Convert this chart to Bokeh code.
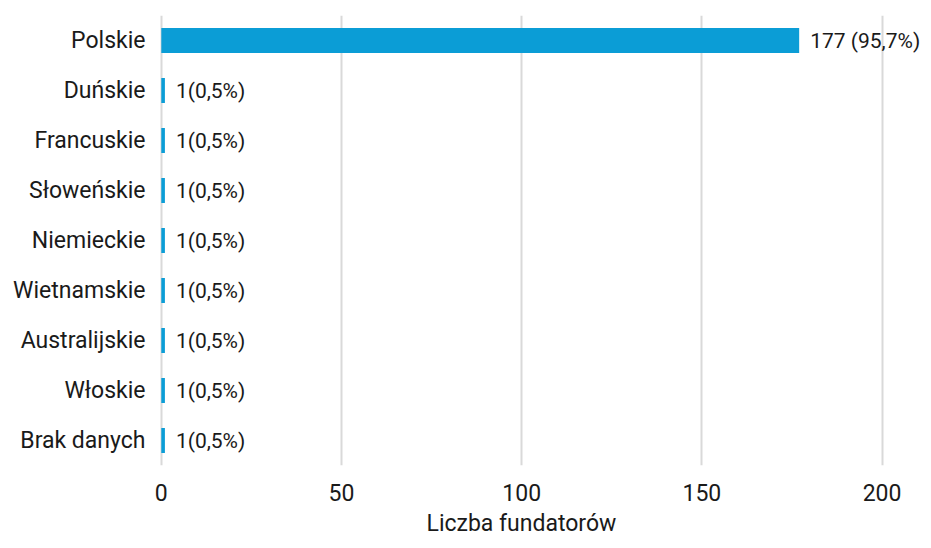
from bokeh.plotting import figure
from bokeh.models import ColumnDataSource, LabelSet, Range1d, FactorRange, FixedTicker, Title
from bokeh.core.properties import value
from bokeh.embed import file_html
from bokeh.resources import INLINE

categories = ["Polskie", "Duńskie", "Francuskie", "Słoweńskie", "Niemieckie",
              "Wietnamskie", "Australijskie", "Włoskie", "Brak danych"]
counts = [177, 1, 1, 1, 1, 1, 1, 1, 1]
value_labels = ["177 (95,7%)", "1(0,5%)", "1(0,5%)", "1(0,5%)", "1(0,5%)",
                "1(0,5%)", "1(0,5%)", "1(0,5%)", "1(0,5%)"]
x_ticks = [0, 50, 100, 150, 200]
x_title = "Liczba fundatorów"

FONT = "Roboto"
TXT = "#1a1a1a"
BAR = "#0b9dd6"

src = ColumnDataSource(dict(cat=categories, count=counts, label=value_labels))

p = figure(width=923, height=540, output_backend="svg", toolbar_location=None,
           y_range=FactorRange(factors=list(reversed(categories))),
           x_range=Range1d(-0.5, 211.5),
           min_border_left=159, min_border_right=0, min_border_top=15,
           min_border_bottom=73)
p.outline_line_color = None
p.background_fill_color = "white"
p.border_fill_color = "white"

p.hbar(y="cat", left=0, right="count", height=0.5, source=src,
       fill_color=BAR, line_color=None)

labels = LabelSet(x="count", y="cat", text="label", source=src, x_offset=11,
                  text_baseline="middle", text_align="left",
                  text_font=value(FONT), text_font_size="21px", text_color=TXT)
p.add_layout(labels)

p.ygrid.grid_line_color = None
p.xgrid.grid_line_color = "#d9d9d9"
p.xgrid.grid_line_width = 2
p.xaxis.ticker = FixedTicker(ticks=x_ticks)

for ax in (p.xaxis[0], p.yaxis[0]):
    ax.axis_line_color = None
    ax.major_tick_line_color = None
    ax.minor_tick_line_color = None
    ax.major_tick_out = 0
    ax.major_tick_in = 0
    ax.major_label_text_font = FONT
    ax.major_label_text_font_size = "23px"
    ax.major_label_text_color = TXT

p.yaxis.major_label_standoff = 14
p.xaxis.major_label_standoff = 18

t = Title(text=x_title, align="left", offset=267, standoff=8,
          text_font=FONT, text_font_size="23px", text_font_style="normal",
          text_color=TXT, text_line_height=0.7)
p.add_layout(t, "below")

open("out.html", "w").write(file_html(p, INLINE))
